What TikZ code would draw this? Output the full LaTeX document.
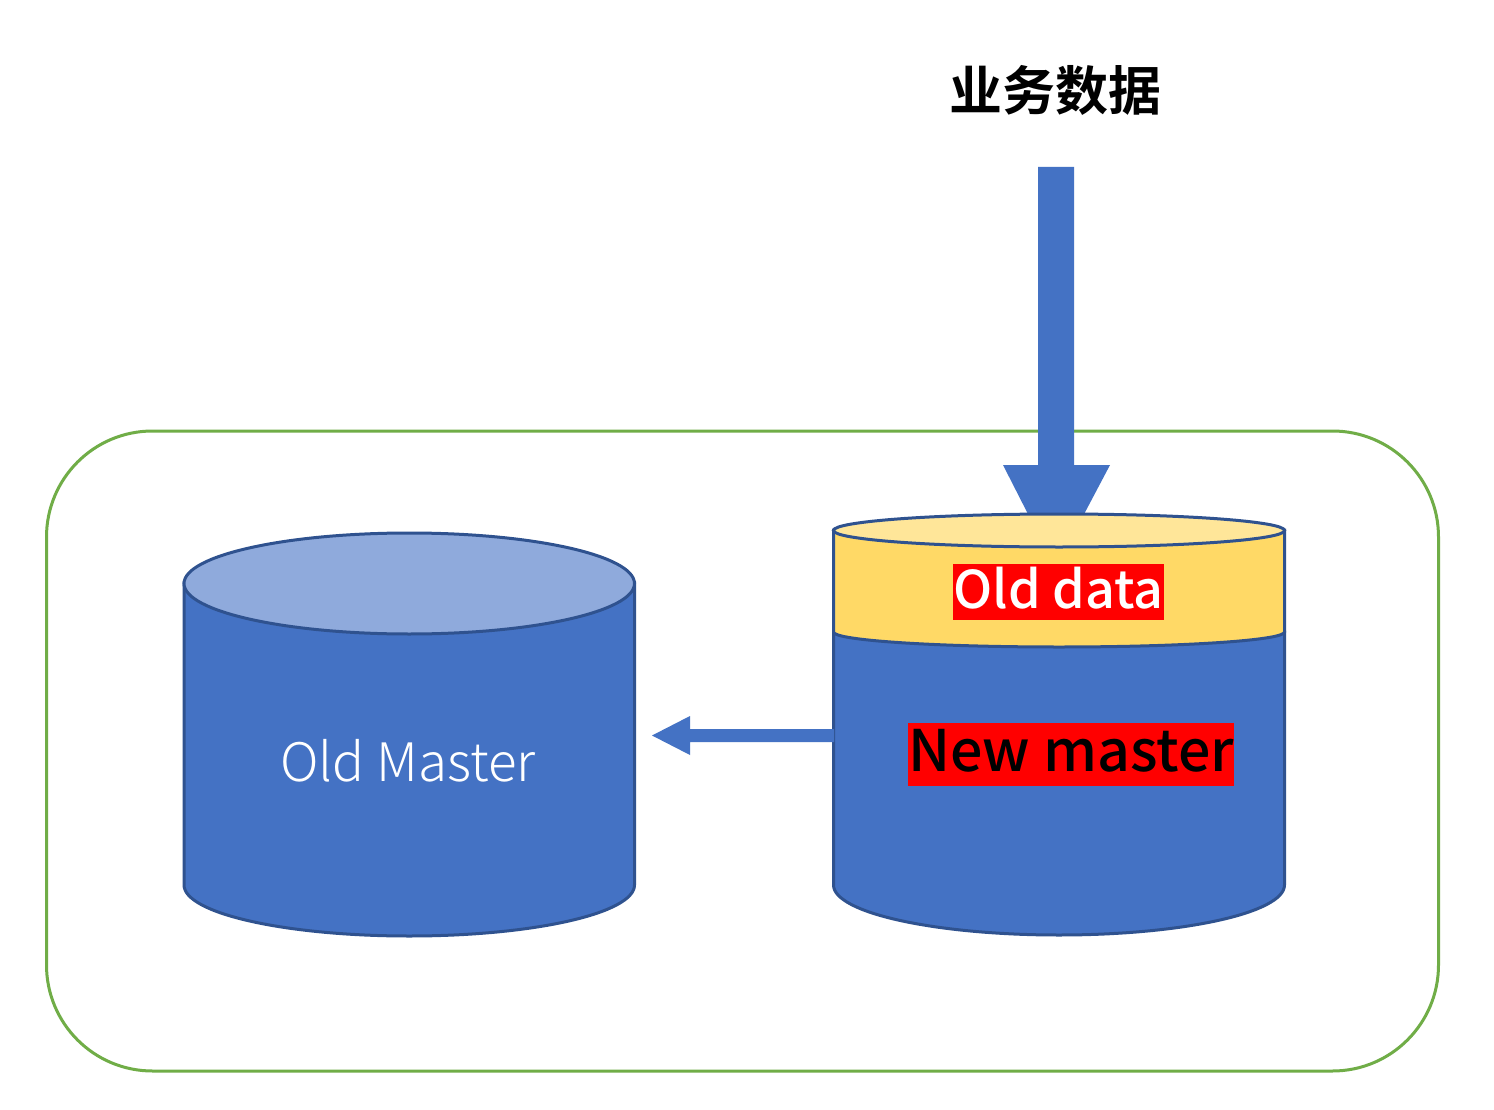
\documentclass[tikz,border=0pt]{standalone}
\usepackage{fontspec}
\setmainfont{Noto Sans CJK SC}[UprightFont=* Medium,BoldFont=* Bold]
\newfontfamily\cjk{Noto Sans CJK SC Bold}
\newfontfamily\lightf{Noto Sans CJK SC Light}
\definecolor{blu}{HTML}{4472C4}
\definecolor{bluedge}{HTML}{2F528F}
\definecolor{blulight}{HTML}{8FAADC}
\definecolor{yel}{HTML}{FFD966}
\definecolor{yellight}{HTML}{FFE699}
\definecolor{grn}{HTML}{70AD47}
\tikzset{x=1pt,y=-1pt,
  edge/.style={draw=bluedge,line width=3pt},
  lbl/.style={inner sep=0pt,outer sep=0pt,anchor=center}}
\begin{document}
\begin{tikzpicture}
\useasboundingbox (0,0) rectangle (1494,1110);
\fill[white] (0,0) rectangle (1494,1110);
\node[lbl,name=frame,draw=grn,line width=3pt,rounded corners=106pt,minimum width=1392pt,minimum height=640pt] at (742.5,751) {};
% left cylinder
\path[fill=blu,edge] (184,583) -- (184,885) arc[start angle=180,end angle=360,x radius=225.25,y radius=-51] -- (634.5,583) -- cycle;
\path[fill=blulight,edge] (409.25,583.5) ellipse[x radius=225.25,y radius=50.5];
\node[lbl,text=white,font=\lightf\fontsize{53}{60}\selectfont] (old) at (408,761) {Old Master};
% right cylinder
\path[fill=blu,edge] (833.5,632) -- (833.5,885) arc[start angle=180,end angle=360,x radius=225.5,y radius=-50] -- (1284.5,632) -- cycle;
\path[fill=yel,edge] (833.5,530) -- (833.5,632) arc[start angle=180,end angle=360,x radius=225.5,y radius=-15] -- (1284.5,530) -- cycle;
% big arrow
\path[fill=blu] (1038,167) -- (1074,167) -- (1074,465) -- (1110,465) -- (1082,518) -- (1030,518) -- (1003,465) -- (1038,465) -- cycle;
\path[fill=yellight,edge] (1059,530.5) ellipse[x radius=225.5,y radius=16.5];
\node[lbl,fill=red,minimum width=211pt,minimum height=56pt] (od) at (1058.5,591.5) {};
\node[lbl,text=white,font=\fontsize{52}{60}\selectfont] at (1058.5,588) {Old data};
\node[lbl,fill=red,minimum width=326pt,minimum height=63pt] (nm) at (1071,754.5) {};
\node[lbl,text=black,font=\fontsize{57.3}{66}\selectfont] at (1071,751) {New master};
\node[lbl,font=\cjk\fontsize{53}{60}\selectfont] (biz) at (1055,90) {业务数据};
% small arrow
\path[fill=blu] (834,729) -- (690,729) -- (690,716) -- (652,735.5) -- (690,755) -- (690,742) -- (834,742) -- cycle;
\end{tikzpicture}
\end{document}
